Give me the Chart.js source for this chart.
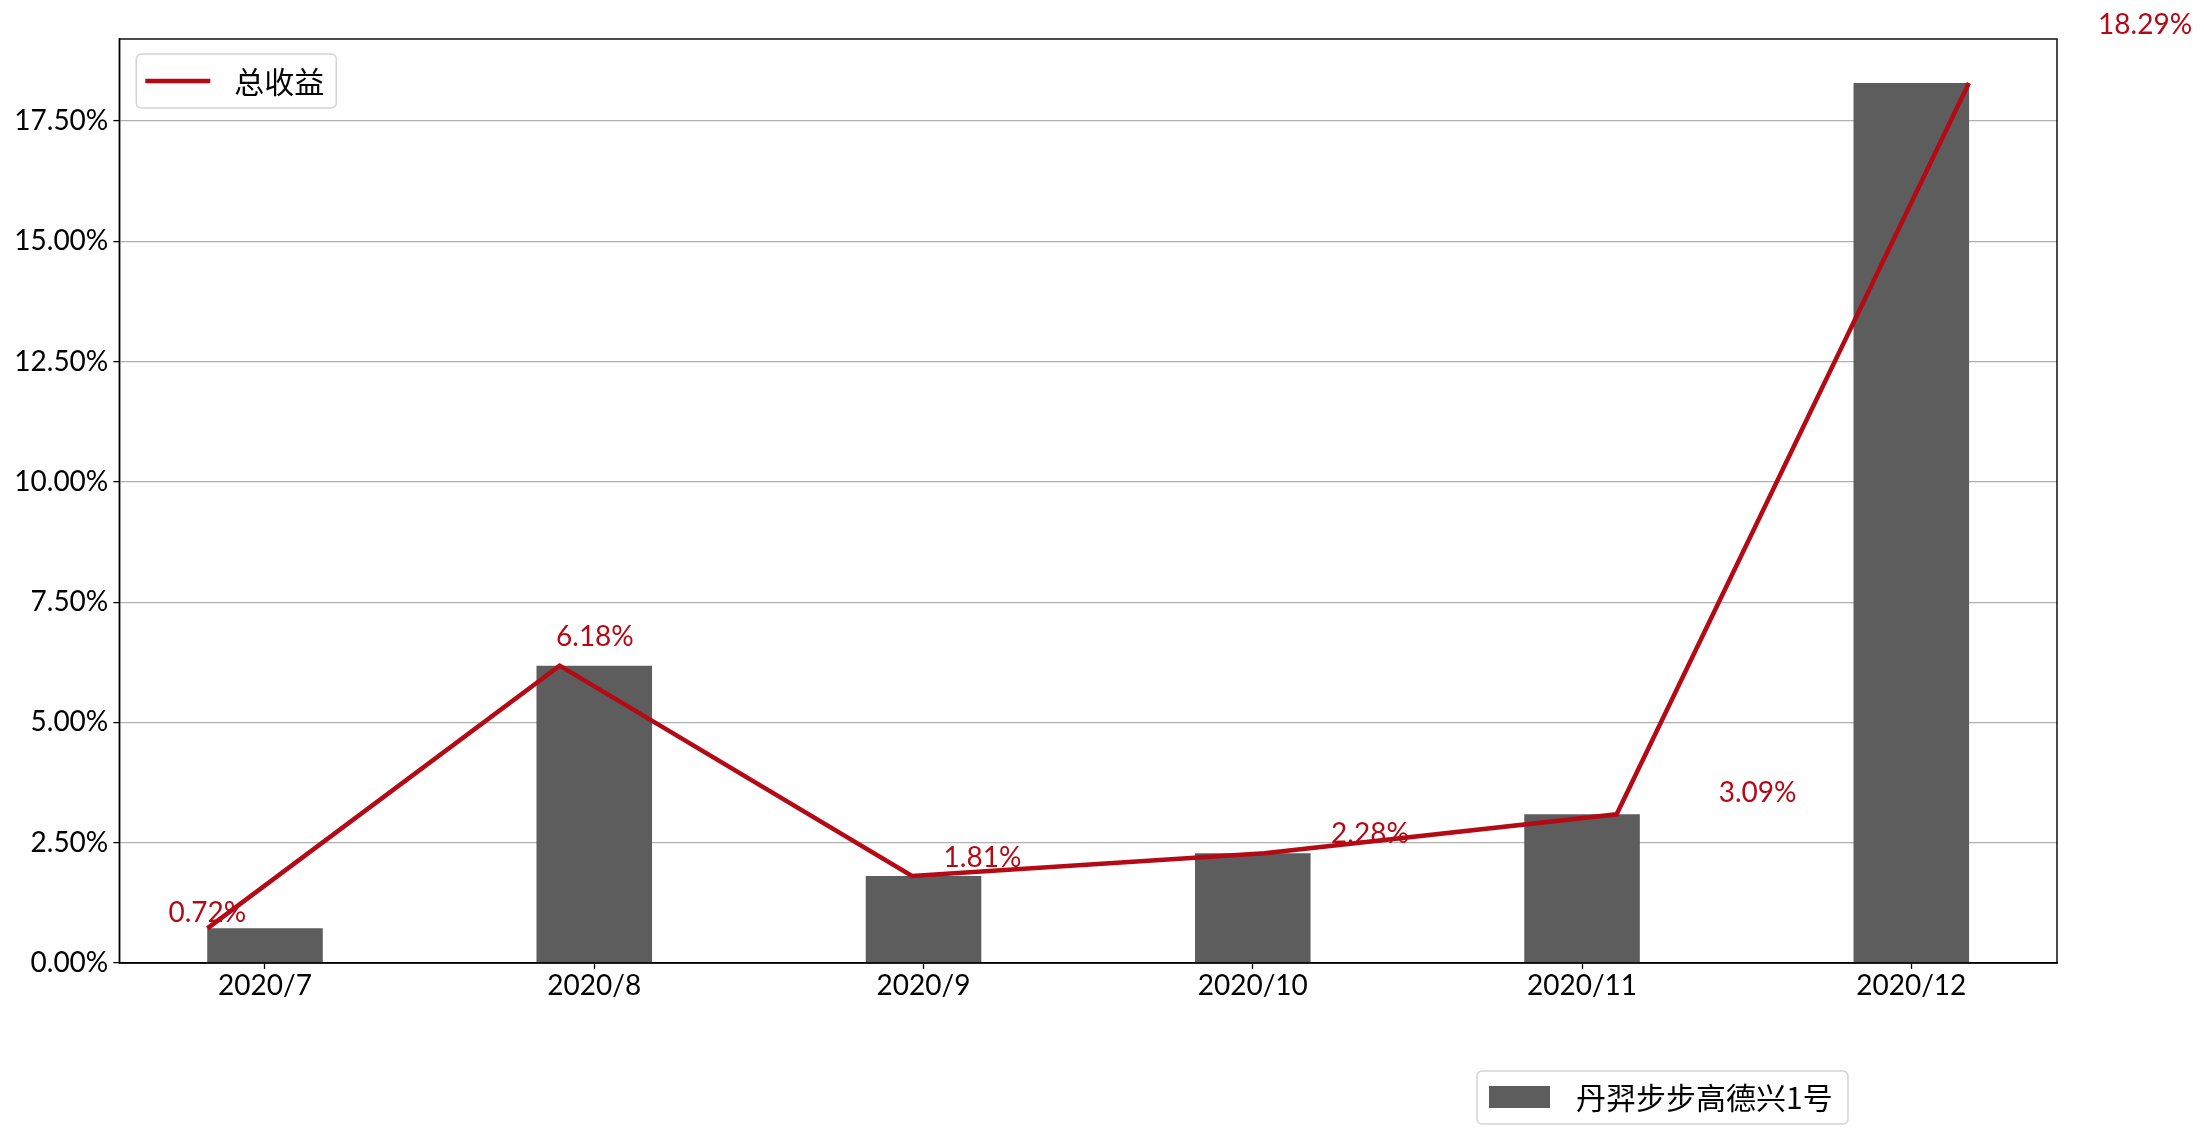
<!DOCTYPE html>
<html>
<head>
<meta charset="utf-8">
<script src="https://cdn.jsdelivr.net/npm/chart.js@4/dist/chart.umd.min.js"></script>
<style>
html,body{margin:0;padding:0;background:#fff;}
canvas{display:block;}
</style>
</head>
<body>
<canvas id="c" width="2204" height="1134"></canvas>
<script>
// ---- data ----
const categories = ['2020/7', '2020/8', '2020/9', '2020/10', '2020/11', '2020/12'];
const barValues = [0.72, 6.18, 1.81, 2.28, 3.09, 18.29];
const lineValues = [0.72, 6.18, 1.81, 2.28, 3.09, 18.29];
const pointLabels = ['0.72%', '6.18%', '1.81%', '2.28%', '3.09%', '18.29%'];
const barName = '丹羿步步高德兴1号';
const lineName = '总收益';

const RED = 'rgb(180,10,22)';
const GREY = '#5d5d5d';
const yMax = Math.max(...barValues) * 1.05;
const nCat = categories.length;
const barHalf = 0.175;
const barSpan = (nCat - 1) + 2 * barHalf;

Chart.defaults.font.family = 'Lato, "Noto Sans CJK SC", sans-serif';
Chart.defaults.font.size = 28;
Chart.defaults.color = '#000';

const extras = {
  id: 'extras',
  afterDatasetsDraw(chart) {
    const ctx = chart.ctx;
    const x2 = chart.scales.x2, y = chart.scales.y;
    ctx.save();
    ctx.fillStyle = RED;
    ctx.font = '28px Lato, "Noto Sans CJK SC", sans-serif';
    ctx.textAlign = 'center';
    ctx.textBaseline = 'bottom';
    lineValues.forEach((v, i) => {
      ctx.fillText(pointLabels[i], x2.getPixelForValue(i * 1.1), y.getPixelForValue(v * 1.05));
    });
    ctx.restore();
  },
  afterDraw(chart) {
    const ctx = chart.ctx;
    const a = chart.chartArea;
    ctx.save();
    ctx.strokeStyle = '#000';
    ctx.lineWidth = 1.4;
    ctx.strokeRect(a.left, a.top, a.right - a.left, a.bottom - a.top);

    function box(x, y, w, h) {
      ctx.beginPath();
      ctx.roundRect(x, y, w, h, 5);
      ctx.fillStyle = 'rgba(255,255,255,0.85)';
      ctx.fill();
      ctx.strokeStyle = '#d4d4d4';
      ctx.lineWidth = 1.5;
      ctx.stroke();
    }
    // legend 1 (line)
    const lx = a.left + 17, ly = a.top + 15;
    box(lx, ly, 200, 54);
    ctx.strokeStyle = RED;
    ctx.lineWidth = 4.5;
    ctx.beginPath();
    ctx.moveTo(lx + 9, ly + 27);
    ctx.lineTo(lx + 74, ly + 27);
    ctx.stroke();
    ctx.fillStyle = '#000';
    ctx.font = '30px "Noto Sans CJK SC", sans-serif';
    ctx.textAlign = 'left';
    ctx.textBaseline = 'middle';
    ctx.fillText(lineName, lx + 98, ly + 28);

    // legend 2 (bars)
    const bx = 1477, by = 1071;
    box(bx, by, 371, 53);
    ctx.fillStyle = GREY;
    ctx.fillRect(bx + 12, by + 15, 61, 22);
    ctx.fillStyle = '#000';
    ctx.fillText(barName, bx + 99, by + 27);
    ctx.restore();
  }
};

new Chart(document.getElementById('c'), {
  data: {
    datasets: [
      {
        type: 'line',
        label: lineName,
        data: lineValues.map((v, i) => ({x: i, y: v})),
        xAxisID: 'x2',
        yAxisID: 'y',
        borderColor: RED,
        borderWidth: 4.5,
        pointRadius: 0,
        tension: 0,
        fill: false,
        order: 0
      },
      {
        type: 'bar',
        label: barName,
        data: barValues.map((v, i) => ({x: i, y: v})),
        xAxisID: 'x',
        yAxisID: 'y',
        backgroundColor: GREY,
        borderWidth: 0,
        grouped: false,
        categoryPercentage: 1,
        barPercentage: 0.351,
        order: 1
      }
    ]
  },
  options: {
    responsive: false,
    animation: false,
    devicePixelRatio: 1,
    layout: {padding: {top: 39, right: 147, left: 0, bottom: 0}},
    plugins: {legend: {display: false}, tooltip: {enabled: false}},
    scales: {
      x: {
        type: 'linear',
        position: 'bottom',
        offset: false,
        min: -barHalf - 0.05 * barSpan,
        max: (nCat - 1) + barHalf + 0.05 * barSpan,
        afterBuildTicks(s) { s.ticks = categories.map((c, i) => ({value: i})); },
        afterFit(s) { s.height = 171; },
        ticks: {
          callback: (v) => categories[Math.round(v)],
          padding: 0,
          maxRotation: 0,
          autoSkip: false,
          color: '#000',
          font: {size: 28}
        },
        grid: {offset: false, drawOnChartArea: false, tickLength: 6, tickColor: '#000', tickWidth: 1.3},
        border: {color: '#000', width: 1.4}
      },
      x2: {
        type: 'linear',
        display: false,
        offset: false,
        min: -0.05 * (nCat - 1),
        max: (nCat - 1) * 1.05
      },
      y: {
        type: 'linear',
        position: 'left',
        min: 0,
        max: yMax,
        afterBuildTicks(s) {
          s.ticks = s.ticks.filter(t => Math.abs(t.value / 2.5 - Math.round(t.value / 2.5)) < 1e-6);
        },
        afterFit(s) { s.width = 119.3; },
        ticks: {
          stepSize: 2.5,
          callback: (v) => v.toFixed(2) + '%',
          padding: 5,
          color: '#000',
          font: {size: 28}
        },
        grid: {color: '#b0b0b0', lineWidth: 1.2, tickLength: 6, tickColor: '#000', tickWidth: 1.3},
        border: {color: '#000', width: 1.4}
      }
    }
  },
  plugins: [extras]
});
</script>
</body>
</html>
